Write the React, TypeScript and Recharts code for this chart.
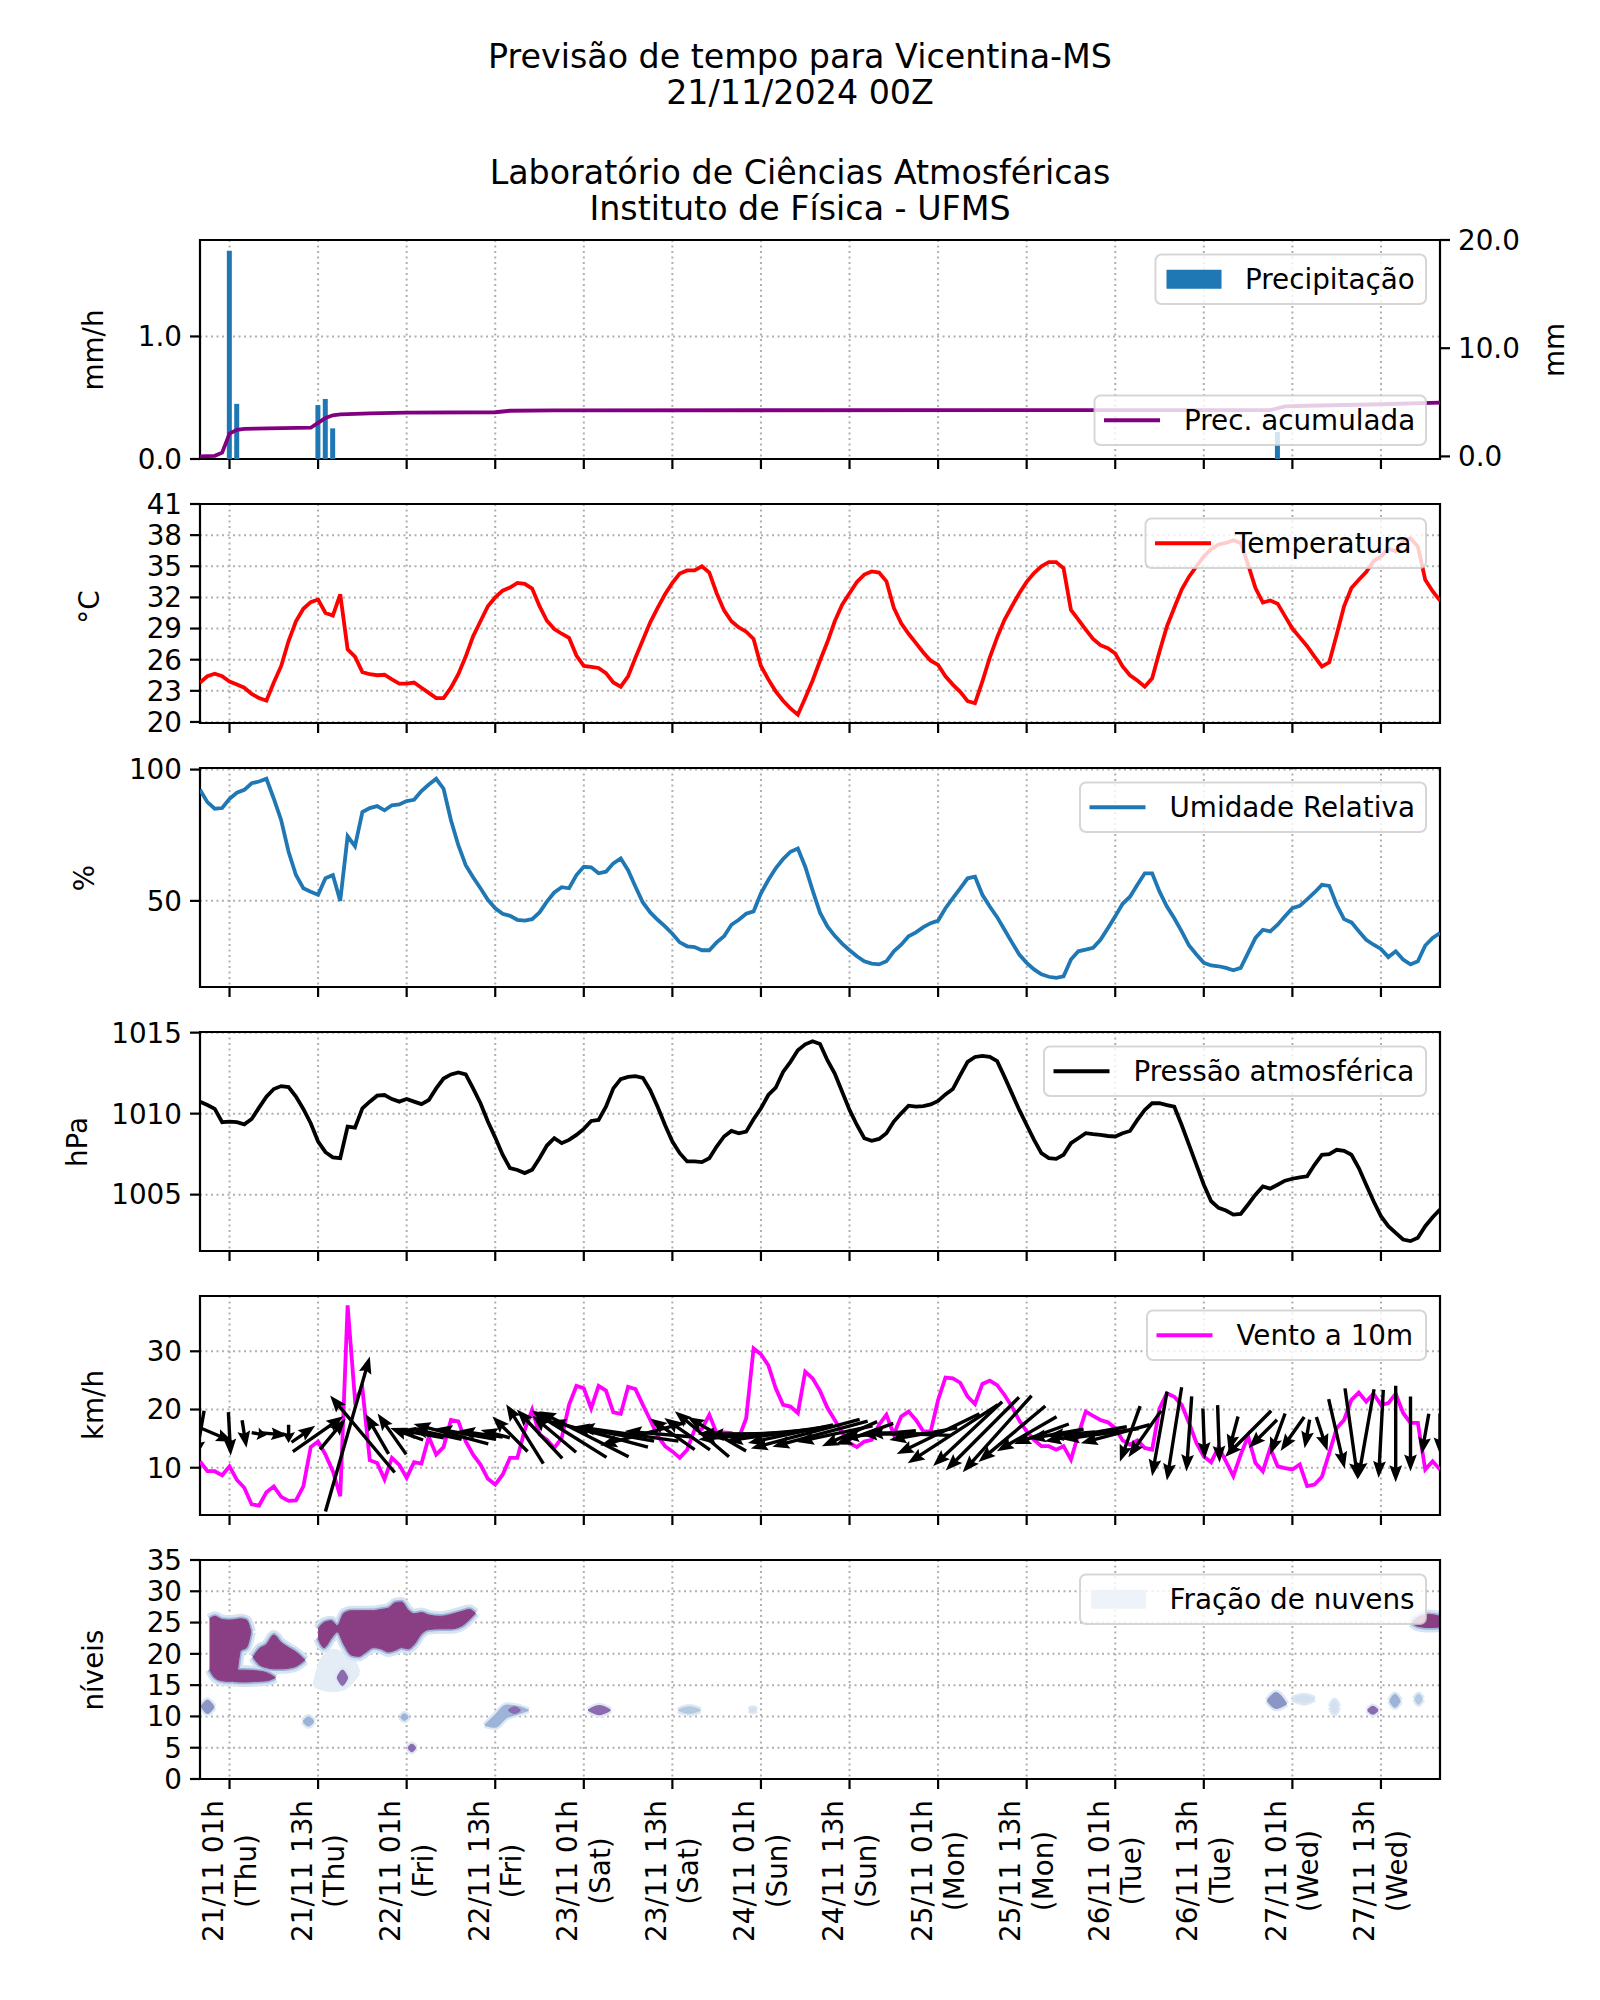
import React from 'react';
import { Area, Bar, CartesianGrid, ComposedChart, Line, ReferenceArea, Scatter, XAxis, YAxis } from 'recharts';

const FONT = '"DejaVu Sans", Verdana, sans-serif';
const TICK_FONT = 27.8;

// hourly time axis: hour 0 = 20/11 21h, hour 4 = 21/11 01h
const hours = Array.from({ length: 169 }, (_, i) => i);
const tickHours = [4, 16, 28, 40, 52, 64, 76, 88, 100, 112, 124, 136, 148, 160];
const tickDates = ['21/11 01h', '21/11 13h', '22/11 01h', '22/11 13h', '23/11 01h', '23/11 13h', '24/11 01h',
  '24/11 13h', '25/11 01h', '25/11 13h', '26/11 01h', '26/11 13h', '27/11 01h', '27/11 13h'];
const tickDays = ['(Thu)', '(Thu)', '(Fri)', '(Fri)', '(Sat)', '(Sat)', '(Sun)', '(Sun)', '(Mon)', '(Mon)',
  '(Tue)', '(Tue)', '(Wed)', '(Wed)'];

// precipitation (mm/h) and accumulated precipitation (mm)
const precipHours = [4, 5, 16, 17, 18, 146];
const precipRate = [1.70, 0.45, 0.44, 0.49, 0.25, 0.22];
const accHours = [0, 2, 3, 4, 5, 6, 15, 16, 17, 18, 19, 23, 28, 40, 42, 48, 145, 146, 147, 150, 160, 168];
const accValues = [0, 0.05, 0.35, 2.1, 2.45, 2.55, 2.65, 3.1, 3.55, 3.8, 3.88, 3.98, 4.05, 4.08, 4.22, 4.26,
  4.28, 4.45, 4.62, 4.68, 4.82, 4.97];

const temperature = [
  23.8, 24.4, 24.65, 24.4, 23.9, 23.6, 23.3, 22.7, 22.3, 22.05, 23.8, 25.4,
  27.8, 29.7, 30.9, 31.55, 31.8, 30.5, 30.25, 32.3, 27.0, 26.3, 24.8, 24.6,
  24.5, 24.55, 24.1, 23.7, 23.7, 23.8, 23.3, 22.8, 22.3, 22.3, 23.3, 24.6,
  26.3, 28.25, 29.7, 31.15, 32.0, 32.65, 32.95, 33.4, 33.3, 32.85, 31.15, 29.75,
  28.95, 28.5, 28.1, 26.4, 25.4, 25.3, 25.2, 24.7, 23.8, 23.4, 24.4, 26.2,
  27.9, 29.6, 31.0, 32.3, 33.4, 34.3, 34.6, 34.6, 35.0, 34.4, 32.4, 30.75,
  29.7, 29.1, 28.7, 28.0, 25.4, 24.1, 22.95, 22.05, 21.3, 20.7, 22.3, 24.0,
  25.9, 27.7, 29.7, 31.3, 32.4, 33.5, 34.2, 34.5, 34.4, 33.55, 31.0, 29.5,
  28.5, 27.6, 26.7, 25.9, 25.5, 24.4, 23.6, 22.9, 22.0, 21.8, 23.9, 26.2,
  28.15, 29.85, 31.15, 32.4, 33.5, 34.35, 35.0, 35.4, 35.4, 34.8, 30.8, 29.85,
  28.9, 28.0, 27.4, 27.1, 26.6, 25.35, 24.5, 24.0, 23.4, 24.2, 26.8, 29.2,
  31.0, 32.75, 34.0, 35.0, 35.95, 36.65, 37.1, 37.25, 37.5, 37.25, 35.15, 32.9,
  31.5, 31.7, 31.4, 30.2, 29.0, 28.15, 27.3, 26.3, 25.35, 25.75, 28.4, 31.15,
  32.9, 33.7, 34.45, 35.5, 35.95, 36.7, 36.45, 37.4, 37.7, 36.9, 33.7, 32.6,
  31.7,
];

const humidity = [
  92.3, 87.6, 85.1, 85.35, 88.9, 91.2, 92.3, 94.8, 95.45, 96.5, 88.9, 80.7,
  68.7, 59.85, 54.8, 53.5, 52.3, 58.6, 59.85, 50.0, 74.6, 70.8, 83.8, 85.35,
  86.1, 84.5, 86.4, 86.7, 88.0, 88.5, 91.8, 94.3, 96.5, 92.7, 80.7, 71.2,
  63.6, 59.0, 54.8, 50.4, 47.2, 45.1, 44.3, 42.8, 42.5, 43.05, 45.6, 49.7,
  53.2, 55.2, 54.8, 59.85, 63.0, 62.75, 60.5, 61.1, 64.3, 66.2, 61.7, 55.4,
  49.4, 45.6, 42.8, 40.3, 37.5, 34.2, 32.7, 32.4, 31.2, 31.2, 34.2, 36.5,
  40.9, 42.8, 45.1, 46.0, 52.9, 57.95, 62.4, 65.9, 68.7, 69.95, 63.0, 54.0,
  45.5, 40.3, 36.7, 33.7, 31.2, 28.9, 27.0, 26.1, 25.8, 27.0, 30.8, 33.3,
  36.5, 38.0, 40.0, 41.5, 42.5, 47.2, 51.0, 54.8, 58.6, 59.2, 52.3, 47.85,
  43.8, 39.0, 34.2, 29.55, 26.4, 23.9, 22.0, 21.1, 20.7, 21.3, 27.65, 30.8,
  31.4, 32.1, 35.2, 39.6, 44.1, 48.9, 51.6, 56.1, 60.5, 60.5, 53.5, 47.85,
  43.4, 38.4, 33.0, 29.55, 26.4, 25.4, 25.1, 24.5, 23.6, 24.5, 30.2, 35.9,
  39.0, 38.4, 40.9, 44.1, 47.2, 48.1, 50.6, 53.2, 56.1, 55.7, 48.5, 43.05,
  41.8, 38.4, 35.2, 33.3, 31.7, 28.6, 30.8, 27.65, 25.8, 27.0, 33.0, 35.9,
  37.75,
];

const pressure = [
  1010.74, 1010.53, 1010.29, 1009.47, 1009.51, 1009.47, 1009.34, 1009.67, 1010.37, 1011.05, 1011.52, 1011.7,
  1011.64, 1011.05, 1010.29, 1009.41, 1008.28, 1007.62, 1007.3, 1007.25, 1009.2, 1009.14, 1010.33, 1010.74,
  1011.11, 1011.15, 1010.9, 1010.74, 1010.9, 1010.74, 1010.59, 1010.84, 1011.56, 1012.17, 1012.42, 1012.54,
  1012.42, 1011.56, 1010.64, 1009.51, 1008.52, 1007.46, 1006.64, 1006.52, 1006.33, 1006.54, 1007.25, 1008.03,
  1008.48, 1008.18, 1008.38, 1008.69, 1009.06, 1009.55, 1009.61, 1010.43, 1011.56, 1012.13, 1012.27, 1012.32,
  1012.21, 1011.45, 1010.43, 1009.3, 1008.28, 1007.56, 1007.05, 1007.05, 1007.01, 1007.25, 1007.97, 1008.59,
  1008.93, 1008.79, 1008.89, 1009.65, 1010.33, 1011.15, 1011.6, 1012.58, 1013.2, 1013.91, 1014.28, 1014.47,
  1014.3, 1013.3, 1012.48, 1011.35, 1010.23, 1009.3, 1008.48, 1008.32, 1008.44, 1008.79, 1009.51, 1010.02,
  1010.49, 1010.43, 1010.47, 1010.57, 1010.78, 1011.19, 1011.52, 1012.38, 1013.2, 1013.5, 1013.57, 1013.5,
  1013.24, 1012.27, 1011.25, 1010.23, 1009.3, 1008.38, 1007.56, 1007.25, 1007.21, 1007.46, 1008.18, 1008.48,
  1008.79, 1008.73, 1008.69, 1008.62, 1008.59, 1008.79, 1008.93, 1009.61, 1010.23, 1010.64, 1010.64, 1010.53,
  1010.43, 1009.3, 1008.07, 1006.84, 1005.61, 1004.59, 1004.18, 1004.02, 1003.77, 1003.81, 1004.39, 1005.0,
  1005.51, 1005.37, 1005.61, 1005.86, 1005.98, 1006.07, 1006.13, 1006.84, 1007.46, 1007.5, 1007.77, 1007.7,
  1007.46, 1006.64, 1005.61, 1004.59, 1003.67, 1003.05, 1002.64, 1002.23, 1002.13, 1002.34, 1003.05, 1003.6,
  1004.08,
];

const windSpeed = [
  11.1, 9.4, 9.4, 8.7, 10.25, 7.9, 6.55, 3.7, 3.5, 5.8, 6.8, 5.0,
  4.3, 4.4, 6.8, 13.55, 14.5, 12.25, 9.4, 5.1, 37.9, 21.65, 23.65, 11.3,
  10.8, 8.0, 11.7, 10.5, 8.25, 10.95, 10.7, 15.3, 12.25, 13.55, 18.2, 17.95,
  14.5, 12.25, 10.55, 8.1, 7.1, 8.8, 11.7, 11.7, 16.5, 19.95, 15.7, 14.8,
  13.4, 15.1, 20.8, 24.05, 23.65, 20.2, 24.05, 23.25, 19.5, 19.25, 23.9, 23.5,
  20.8, 18.2, 15.5, 13.7, 12.8, 11.7, 13.1, 16.5, 16.65, 19.1, 15.95, 16.05,
  15.95, 15.1, 18.5, 30.5, 29.5, 27.6, 23.65, 20.8, 20.5, 19.4, 26.5, 25.35,
  23.2, 20.3, 18.2, 16.05, 14.25, 13.55, 14.5, 14.8, 17.4, 19.1, 15.7, 18.8,
  19.65, 18.2, 16.25, 16.25, 21.65, 25.5, 25.35, 24.6, 22.2, 20.95, 24.4, 24.95,
  24.2, 22.5, 20.5, 18.1, 16.25, 14.8, 13.7, 13.7, 13.1, 13.7, 11.4, 15.7,
  19.65, 18.9, 18.2, 17.8, 16.8, 14.7, 13.95, 14.7, 13.4, 13.1, 20.2, 22.8,
  22.2, 20.8, 17.7, 14.25, 11.95, 10.95, 13.55, 11.1, 8.55, 12.25, 15.4, 10.8,
  9.4, 13.4, 10.25, 9.95, 9.7, 10.55, 6.85, 7.1, 8.45, 12.55, 16.8, 18.2,
  21.65, 22.9, 21.35, 22.7, 20.8, 21.1, 22.7, 19.4, 17.7, 17.7, 9.7, 11.1,
  9.7,
];

// direction the wind arrow points (deg, 0 = up/north, 90 = right/east), every 2 h
const windArrowHours = hours.filter((h) => h % 2 === 0);
const windArrowDir = [
  190, 113, 177, 171, 100, 95, 180, 55, 55, 40, 16, 320, 330, 325, 290, 280, 282, 285, 280, 278,
  285, 315, 328, 317, 310, 302, 297, 285, 280, 278, 255, 275, 305, 305, 310, 300, 270, 268, 265, 262,
  258, 255, 255, 258, 246, 250, 265, 270, 272, 260, 244, 237, 227, 225, 222, 230, 240, 250, 260, 265,
  260, 262, 255, 200, 215, 190, 189, 184, 178, 178, 195, 225, 225, 200, 215, 190, 162, 167, 172, 190,
  183, 180, 180, 190, 180,
];
const WIND_ARROW_LEVEL = 15.8;
const ARROW_PX_PER_KMH = 4.25;

// cloud fraction blobs: [hour, lowest level, highest level]
const cloudBlobA = [[1.3, 17.5, 25.6], [2, 16.2, 26.0], [3, 15.7, 25.5], [4, 15.6, 25.4], [4.8, 15.8, 25.5],
  [5.5, 20.5, 25.6], [6.3, 21.0, 25.4], [6.9, 23.5, 23.5]];
const cloudBlobA2 = [[4.5, 15.6, 17.4], [6, 15.5, 17.4], [7.5, 15.6, 17.3], [9, 15.7, 17.0], [10.2, 16.2, 16.2]];
const cloudBlobB = [[7.2, 19.5, 19.5], [8, 18.3, 20.8], [9, 17.8, 21.5], [10, 17.6, 23.0], [11, 17.6, 21.8],
  [12, 17.7, 21.0], [13, 18.0, 20.3], [14.2, 19.0, 19.0]];
const cloudBlobC = [[16.0, 22.5, 24.0], [16.8, 21.0, 25.0], [17.8, 22.5, 25.3], [18.6, 23.5, 24.5],
  [19.5, 21.5, 26.5], [20.5, 19.8, 26.9], [21.5, 19.6, 26.9], [22.5, 20.3, 26.9], [23.5, 21.0, 26.9],
  [24.5, 20.8, 27.1], [25.5, 20.3, 27.3], [26.5, 20.6, 28.2], [27.3, 21.0, 28.3], [28.2, 20.8, 27.0],
  [29.0, 21.5, 26.4], [30.0, 23.2, 26.6], [31.0, 23.9, 26.2], [32.5, 24.0, 26.0], [34.0, 24.0, 26.3],
  [35.5, 24.5, 26.8], [36.5, 25.5, 27.1], [37.3, 26.5, 26.5]];
const cloudBlobD = [[164.2, 25.0, 25.0], [165, 24.4, 25.8], [166.5, 24.2, 26.3], [168, 24.3, 26.0]];
const cloudHaze = [[15.5, 15.0, 15.0], [16.5, 14.5, 19.0], [18, 14.2, 20.5], [19.5, 14.5, 20.0],
  [20.5, 15.5, 19.5], [21.5, 17.0, 17.0]];
const cloudSpots = [
  [[0.2, 11.6, 11.6], [1.0, 10.5, 12.6], [1.9, 11.5, 11.5]],
  [[14.0, 9.2, 9.2], [14.7, 8.5, 9.9], [15.4, 9.2, 9.2]],
  [[18.6, 16.2, 16.2], [19.3, 15.0, 17.4], [20.0, 16.2, 16.2]],
  [[27.2, 9.9, 9.9], [27.7, 9.4, 10.4], [28.2, 9.9, 9.9]],
  [[28.2, 5.0, 5.0], [28.7, 4.4, 5.5], [29.2, 5.0, 5.0]],
  [[38.6, 8.6, 8.6], [40.0, 8.3, 10.2], [41.5, 9.8, 11.8], [43.0, 10.4, 11.6], [44.5, 11.0, 11.0]],
  [[41.8, 11.0, 11.0], [42.6, 10.5, 11.5], [43.4, 11.0, 11.0]],
  [[52.6, 11.0, 11.0], [54.1, 10.3, 11.7], [55.6, 11.0, 11.0]],
  [[64.8, 11.0, 11.0], [66.3, 10.5, 11.5], [67.8, 11.0, 11.0]],
  [[74.4, 11.0, 11.0], [74.9, 10.8, 11.3], [75.4, 11.0, 11.0]],
  [[144.6, 12.5, 12.5], [145.8, 11.3, 13.8], [147.2, 12.0, 12.0]],
  [[148.0, 12.8, 12.8], [149.6, 12.2, 13.3], [151.0, 12.8, 12.8]],
  [[153.2, 11.5, 11.5], [153.7, 10.5, 12.5], [154.2, 11.5, 11.5]],
  [[158.2, 11.0, 11.0], [158.9, 10.4, 11.6], [159.6, 11.0, 11.0]],
  [[161.2, 12.5, 12.5], [161.9, 11.5, 13.5], [162.6, 12.5, 12.5]],
  [[164.6, 12.8, 12.8], [165.1, 12.0, 13.5], [165.6, 12.8, 12.8]],
];
const cloudSpotFraction = [0.7, 0.6, 0.8, 0.6, 0.8, 0.5, 0.85, 0.9, 0.35, 0.2, 0.7, 0.25, 0.2, 0.8, 0.6, 0.35];

// ---------- tables built for recharts ----------
const precipTable = hours.map((h) => {
  const pi = precipHours.indexOf(h);
  const ai = accHours.indexOf(h);
  return { h, rate: pi >= 0 ? precipRate[pi] : undefined, acc: ai >= 0 ? accValues[ai] : undefined };
});
const tempTable = hours.map((h, i) => ({ h, v: temperature[i] }));
const rhTable = hours.map((h, i) => ({ h, v: humidity[i] }));
const presTable = hours.map((h, i) => ({ h, v: pressure[i] }));
const windTable = hours.map((h, i) => ({ h, v: windSpeed[i] }));
const windArrows = windArrowHours.map((h, i) => ({ h, y: WIND_ARROW_LEVEL, speed: windSpeed[h], dir: windArrowDir[i] }));

const bigBlobs = [cloudBlobA, cloudBlobA2, cloudBlobB, cloudBlobC, cloudBlobD];
const allCloudShapes = [cloudHaze, ...bigBlobs, ...cloudSpots];
const cloudHours = Array.from(new Set(allCloudShapes.flatMap((s) => s.map((p) => p[0])))).sort((a, b) => a - b);
const cloudTable = cloudHours.map((h) => {
  const row: any = { h };
  allCloudShapes.forEach((s, k) => {
    const p = s.find((q) => q[0] === h);
    if (p) row['c' + k] = [p[1], p[2]];
  });
  return row;
});
const SPOT_OFFSET = 1 + bigBlobs.length;

function fractionColor(f: number) {
  if (f < 0.3) return '#d2e0ef';
  if (f < 0.45) return '#b4c9e2';
  if (f < 0.65) return '#9db3d8';
  if (f < 0.8) return '#8c96c6';
  return '#8c6bb1';
}

// ---------- layout ----------
const PLOT_H = 219;
const PANEL_TOPS = [240, 504, 768, 1032, 1296, 1560];
const GRID = { stroke: '#b0b0b0', strokeDasharray: '2 3.5', strokeWidth: 2 };
const TICK_LINE = { stroke: '#000', strokeWidth: 2.2 };
const TICK_TEXT = { fontSize: TICK_FONT, fill: '#000', fontFamily: FONT };
const LINE_W = 3.8;

const NoTick = () => null;

function DateTick(props: any) {
  const { x, y, payload } = props;
  const i = tickHours.indexOf(payload.value);
  if (i < 0) return null;
  return (
    <g transform={`translate(${x},${y + 82}) rotate(-90)`}>
      <text textAnchor="middle" fontSize={TICK_FONT} fontFamily={FONT} fill="#000">
        <tspan x={0} y={-6.5}>{tickDates[i]}</tspan>
        <tspan x={0} y={26}>{tickDays[i]}</tspan>
      </text>
    </g>
  );
}

function renderWindArrow(props: any) {
  const { cx, cy, payload } = props;
  if (cx == null || cy == null) return <g />;
  const len = payload.speed * ARROW_PX_PER_KMH;
  const rad = (payload.dir * Math.PI) / 180;
  const ux = Math.sin(rad);
  const uy = -Math.cos(rad);
  const px = -uy;
  const py = ux;
  const tail = [cx - (ux * len) / 2, cy - (uy * len) / 2];
  const tip = [cx + (ux * len) / 2, cy + (uy * len) / 2];
  const hl = Math.min(17, len * 0.6);
  const hal = hl * 0.88;
  const hw = 6.4;
  const sw = 1.7;
  const neck = [tip[0] - ux * hal, tip[1] - uy * hal];
  const back = [tip[0] - ux * hl, tip[1] - uy * hl];
  const pts = [
    [tail[0] + px * sw, tail[1] + py * sw],
    [neck[0] + px * sw, neck[1] + py * sw],
    [back[0] + px * hw, back[1] + py * hw],
    tip,
    [back[0] - px * hw, back[1] - py * hw],
    [neck[0] - px * sw, neck[1] - py * sw],
    [tail[0] - px * sw, tail[1] - py * sw],
  ];
  return <polygon points={pts.map((p) => `${p[0].toFixed(1)},${p[1].toFixed(1)}`).join(' ')} fill="#000" />;
}

function timeAxis(labels: boolean) {
  return (
    <XAxis
      dataKey="h"
      type="number"
      domain={[0, 168]}
      ticks={tickHours}
      interval={0}
      allowDataOverflow
      height={labels ? 215 : 20}
      tickSize={10}
      tickMargin={0}
      axisLine={false}
      tickLine={TICK_LINE}
      tick={labels ? DateTick : NoTick}
    />
  );
}

function valueAxis(domain: number[], ticks: number[], extra: any = {}) {
  return (
    <YAxis
      type="number"
      domain={domain}
      ticks={ticks}
      interval={0}
      allowDataOverflow
      width={140}
      tickSize={10}
      tickMargin={8}
      axisLine={false}
      tickLine={TICK_LINE}
      tick={TICK_TEXT}
      {...extra}
    />
  );
}

function LegendBox({ x, y, label, kind, color }: any) {
  const h = 49.5;
  const cy = y + h / 2;
  return (
    <g>
      <rect x={x} y={y} width={1426 - x} height={h} rx={6} ry={6} fill="#fff" fillOpacity={0.8}
        stroke="#cccccc" strokeOpacity={0.8} strokeWidth={2} />
      {kind === 'line' ? (
        <line x1={x + 9.5} x2={x + 65.5} y1={cy} y2={cy} stroke={color} strokeWidth={LINE_W} />
      ) : (
        <rect x={x + 11} y={cy - 9.5} width={55} height={19} fill={color} />
      )}
      <text x={x + 89.5} y={cy + 10} fontSize={TICK_FONT} fontFamily={FONT} fill="#000">{label}</text>
    </g>
  );
}

function AxisTitle({ x, y, text }: any) {
  return (
    <text transform={`translate(${x},${y}) rotate(-90)`} textAnchor="middle" dominantBaseline="central"
      fontSize={TICK_FONT} fontFamily={FONT} fill="#000">{text}</text>
  );
}

const panelStyle = (i: number): React.CSSProperties => ({ position: 'absolute', left: 0, top: PANEL_TOPS[i] - 20 });
const MARGIN = { top: 20, right: 160, bottom: 0, left: 60 };

export default function App() {
  return (
    <div style={{ position: 'absolute', left: 0, top: 0, width: 1600, height: 2000, background: '#fff', overflow: 'hidden', fontFamily: FONT }}>
      {/* precipitation */}
      <div style={panelStyle(0)}>
        <ComposedChart width={1600} height={20 + PLOT_H + 20} data={precipTable} margin={{ ...MARGIN, right: 40 }}>
          <CartesianGrid yAxisId="left" {...GRID} />
          {timeAxis(false)}
          {valueAxis([0, 1.787], [0, 1], { yAxisId: 'left', tickFormatter: (v: number) => v.toFixed(1) })}
          <YAxis yAxisId="right" orientation="right" type="number" domain={[-0.24, 20]} ticks={[0, 10, 20]} interval={0}
            allowDataOverflow width={120} tickSize={10} tickMargin={8} axisLine={false} tickLine={TICK_LINE}
            tick={TICK_TEXT} tickFormatter={(v: number) => v.toFixed(1)} />
          <Bar yAxisId="left" dataKey="rate" fill="#1f77b4" barSize={5} isAnimationActive={false} />
          <Line yAxisId="right" dataKey="acc" stroke="#800080" strokeWidth={LINE_W} dot={false} activeDot={false}
            connectNulls isAnimationActive={false} />
          <ReferenceArea yAxisId="left" x1={0} x2={168} y1={0} y2={1.787} fill="none" stroke="#000" strokeWidth={2.2} ifOverflow="visible" />
        </ComposedChart>
      </div>

      {/* temperature */}
      <div style={panelStyle(1)}>
        <ComposedChart width={1600} height={20 + PLOT_H + 20} data={tempTable} margin={MARGIN}>
          <CartesianGrid {...GRID} />
          {timeAxis(false)}
          {valueAxis([19.9, 41], [20, 23, 26, 29, 32, 35, 38, 41])}
          <Line dataKey="v" stroke="#ff0000" strokeWidth={LINE_W} dot={false} activeDot={false} isAnimationActive={false} />
          <ReferenceArea x1={0} x2={168} y1={19.9} y2={41} fill="none" stroke="#000" strokeWidth={2.2} ifOverflow="visible" />
        </ComposedChart>
      </div>

      {/* relative humidity */}
      <div style={panelStyle(2)}>
        <ComposedChart width={1600} height={20 + PLOT_H + 20} data={rhTable} margin={MARGIN}>
          <CartesianGrid {...GRID} />
          {timeAxis(false)}
          {valueAxis([17.2, 100.6], [50, 100])}
          <Line dataKey="v" stroke="#1f77b4" strokeWidth={LINE_W} dot={false} activeDot={false} isAnimationActive={false} />
          <ReferenceArea x1={0} x2={168} y1={17.2} y2={100.6} fill="none" stroke="#000" strokeWidth={2.2} ifOverflow="visible" />
        </ComposedChart>
      </div>

      {/* pressure */}
      <div style={panelStyle(3)}>
        <ComposedChart width={1600} height={20 + PLOT_H + 20} data={presTable} margin={MARGIN}>
          <CartesianGrid {...GRID} />
          {timeAxis(false)}
          {valueAxis([1001.52, 1015.04], [1005, 1010, 1015])}
          <Line dataKey="v" stroke="#000000" strokeWidth={LINE_W} dot={false} activeDot={false} isAnimationActive={false} />
          <ReferenceArea x1={0} x2={168} y1={1001.52} y2={1015.04} fill="none" stroke="#000" strokeWidth={2.2} ifOverflow="visible" />
        </ComposedChart>
      </div>

      {/* wind */}
      <div style={panelStyle(4)}>
        <ComposedChart width={1600} height={20 + PLOT_H + 20} data={windTable} margin={MARGIN}>
          <CartesianGrid {...GRID} />
          {timeAxis(false)}
          {valueAxis([1.88, 39.5], [10, 20, 30])}
          <Scatter data={windArrows} dataKey="y" shape={renderWindArrow} isAnimationActive={false} />
          <Line dataKey="v" stroke="#ff00ff" strokeWidth={LINE_W} dot={false} activeDot={false} isAnimationActive={false} />
          <ReferenceArea x1={0} x2={168} y1={1.88} y2={39.5} fill="none" stroke="#000" strokeWidth={2.2} ifOverflow="visible" />
        </ComposedChart>
      </div>

      {/* cloud fraction */}
      <div style={panelStyle(5)}>
        <ComposedChart width={1600} height={20 + PLOT_H + 215} data={cloudTable} margin={MARGIN}>
          <CartesianGrid {...GRID} />
          {timeAxis(true)}
          {valueAxis([0, 35], [0, 5, 10, 15, 20, 25, 30, 35])}
          <Area dataKey="c0" type="monotone" connectNulls fill="#e4edf6" fillOpacity={1} stroke="#e4edf6"
            strokeWidth={4} isAnimationActive={false} dot={false} activeDot={false} />
          {bigBlobs.map((_, k) => (
            <Area key={'halo' + k} dataKey={'c' + (k + 1)} type="monotone" connectNulls fill="#d6e3f0" fillOpacity={1}
              stroke="#d6e3f0" strokeWidth={10} strokeLinejoin="round" isAnimationActive={false} dot={false} activeDot={false} />
          ))}
          {cloudSpots.map((_, k) => (
            <Area key={'spothalo' + k} dataKey={'c' + (k + SPOT_OFFSET)} type="monotone" connectNulls
              fill="#dde8f3" fillOpacity={1} stroke="#dde8f3" strokeWidth={6} strokeLinejoin="round"
              isAnimationActive={false} dot={false} activeDot={false} />
          ))}
          {bigBlobs.map((_, k) => (
            <Area key={'mid' + k} dataKey={'c' + (k + 1)} type="monotone" connectNulls fill="#a9bfdd" fillOpacity={1}
              stroke="#9eb4d8" strokeWidth={4.5} strokeLinejoin="round" isAnimationActive={false} dot={false} activeDot={false} />
          ))}
          {bigBlobs.map((_, k) => (
            <Area key={'core' + k} dataKey={'c' + (k + 1)} type="monotone" connectNulls fill="#8a3f85" fillOpacity={1}
              stroke="#8a3f85" strokeWidth={1} isAnimationActive={false} dot={false} activeDot={false} />
          ))}
          {cloudSpots.map((_, k) => (
            <Area key={'spot' + k} dataKey={'c' + (k + SPOT_OFFSET)} type="monotone" connectNulls
              fill={fractionColor(cloudSpotFraction[k])} fillOpacity={1} stroke={fractionColor(cloudSpotFraction[k])}
              strokeWidth={1.5} isAnimationActive={false} dot={false} activeDot={false} />
          ))}
          <ReferenceArea x1={0} x2={168} y1={0} y2={35} fill="none" stroke="#000" strokeWidth={2.2} ifOverflow="visible" />
        </ComposedChart>
      </div>

      {/* titles, axis titles and legends */}
      <svg width={1600} height={2000} style={{ position: 'absolute', left: 0, top: 0, pointerEvents: 'none' }}>
        <g fontSize={33.3} fontFamily={FONT} fill="#000" textAnchor="middle">
          <text x={800} y={67.5}>Previsão de tempo para Vicentina-MS</text>
          <text x={800} y={104}>21/11/2024 00Z</text>
          <text x={800} y={184}>Laboratório de Ciências Atmosféricas</text>
          <text x={800} y={220}>Instituto de Física - UFMS</text>
        </g>
        <AxisTitle x={93} y={350} text="mm/h" />
        <AxisTitle x={1554} y={350} text="mm" />
        <AxisTitle x={89} y={607} text="°C" />
        <AxisTitle x={84} y={878} text="%" />
        <AxisTitle x={77} y={1142} text="hPa" />
        <AxisTitle x={93} y={1405} text="km/h" />
        <AxisTitle x={93} y={1670} text="níveis" />

        <LegendBox x={1155.5} y={PANEL_TOPS[0] + 14.5} label="Precipitação" kind="patch" color="#1f77b4" />
        <LegendBox x={1094.5} y={PANEL_TOPS[0] + PLOT_H - 14 - 49.5} label="Prec. acumulada" kind="line" color="#800080" />
        <LegendBox x={1145.5} y={PANEL_TOPS[1] + 14.5} label="Temperatura" kind="line" color="#ff0000" />
        <LegendBox x={1080} y={PANEL_TOPS[2] + 14.5} label="Umidade Relativa" kind="line" color="#1f77b4" />
        <LegendBox x={1044} y={PANEL_TOPS[3] + 14.5} label="Pressão atmosférica" kind="line" color="#000000" />
        <LegendBox x={1147} y={PANEL_TOPS[4] + 14.5} label="Vento a 10m" kind="line" color="#ff00ff" />
        <LegendBox x={1080} y={PANEL_TOPS[5] + 14.5} label="Fração de nuvens" kind="patch" color="#edf3f9" />
      </svg>
    </div>
  );
}
